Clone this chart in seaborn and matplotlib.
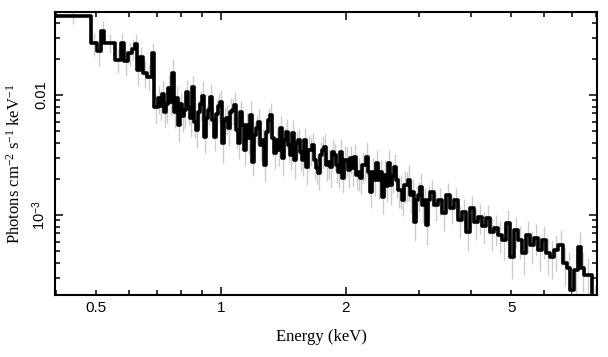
import numpy as np
import pandas as pd
import matplotlib
matplotlib.use("Agg")
import matplotlib.pyplot as plt
import seaborn as sns
from matplotlib.ticker import FixedLocator, FixedFormatter, NullFormatter

# Energy bin edges (keV)
energy_edges = [
    0.398, 0.486, 0.502, 0.513, 0.523, 0.555, 0.573, 0.584, 0.598, 0.609,
    0.621, 0.626, 0.638, 0.648, 0.662, 0.681, 0.690,
    0.7050,
    0.7129, 0.7208, 0.7289, 0.7369, 0.7451, 0.7534, 0.7619, 0.7704, 0.7790,
    0.7877, 0.7965, 0.8054, 0.8144, 0.8235, 0.8327, 0.8420, 0.8514, 0.8609,
    0.8705, 0.8802, 0.8900, 0.9000, 0.9100, 0.9202, 0.9304, 0.9408, 0.9513,
    0.9619, 0.9726, 0.9835, 0.9945, 1.0056, 1.0168, 1.0281, 1.0396, 1.0512,
    1.0629, 1.0748, 1.0867, 1.0989, 1.1112, 1.1236, 1.1361, 1.1488, 1.1616,
    1.1746, 1.1877, 1.2010, 1.2143, 1.2278, 1.2415, 1.2554, 1.2694, 1.2836,
    1.2979, 1.3124, 1.3270, 1.3418, 1.3568, 1.3719, 1.3873, 1.4028, 1.4184,
    1.4342, 1.4502, 1.4664, 1.4827, 1.4992, 1.5160, 1.5329, 1.5500, 1.5673,
    1.5849, 1.6026, 1.6205, 1.6385, 1.6568, 1.6753, 1.6940, 1.7129, 1.7320,
    1.7514, 1.7709, 1.7907, 1.8106, 1.8308, 1.8512, 1.8719, 1.8928, 1.9139,
    1.9353, 1.9569, 1.9787, 2.0008, 2.0231, 2.0457, 2.0685, 2.0916, 2.1149,
    2.1385, 2.1624, 2.1865, 2.2109, 2.2356, 2.2605, 2.2858, 2.3113, 2.3371,
    2.3631, 2.3895, 2.4161, 2.4431, 2.4704, 2.4979, 2.5258, 2.5540, 2.5825,
    2.6113, 2.6404, 2.6699, 2.6997, 2.7298, 2.7603, 2.7911, 2.8222, 2.8537,
    2.8856, 2.9178, 2.9503, 2.9832, 3.0165, 3.0501, 3.0842, 3.1186, 3.1534,
    3.1886,
    3.260, 3.333, 3.408, 3.485, 3.563, 3.643, 3.725, 3.808, 3.894, 3.981,
    4.070, 4.162, 4.255, 4.351, 4.448, 4.548, 4.650, 4.755, 4.862, 4.971,
    5.082, 5.196, 5.313, 5.432, 5.554,
    5.679, 5.806, 5.937, 6.070, 6.206, 6.345, 6.488, 6.671, 6.820, 6.935,
    7.090, 7.250, 7.371, 7.495, 7.835, 8.100,
]

# Flux per bin, in units of 1e-3 photons cm^-2 s^-1 keV^-1
flux_e3 = [
    45.8, 27.0, 23.4, 34.3, 27.3, 19.6, 27.3, 19.0, 22.3, 24.2,
    26.5, 16.2, 20.6, 15.3, 14.2, 22.3, 8.0,
    9.44, 8.10, 10.19, 7.22, 8.41, 11.44, 8.74, 15.25, 7.22, 9.44,
    5.62, 8.41, 6.68, 7.50, 10.59, 7.79, 6.43, 11.66, 5.96, 5.11,
    7.22, 8.41, 9.81, 4.47, 6.43, 7.50, 9.62, 6.19, 4.47, 6.95,
    8.10, 8.74, 3.98, 6.19, 6.43, 5.31, 7.22, 7.50, 8.25, 5.11,
    3.98, 7.22, 5.62, 3.48, 5.62, 4.38, 6.81, 2.76, 4.64, 5.31,
    5.96, 3.83, 4.22, 2.61, 4.92, 6.19, 6.81, 4.38, 3.29, 4.22,
    3.48, 5.31, 2.99, 4.22, 4.92, 3.83, 3.16, 4.82, 2.87, 3.98,
    4.22, 3.35, 2.87, 4.22, 2.51, 3.48, 3.48, 3.83, 2.87, 2.46,
    2.24, 3.16, 3.48, 3.69, 2.61, 2.76, 2.51, 3.35, 3.16, 2.61,
    2.28, 3.35, 2.03, 2.87, 2.87, 2.37, 2.99, 2.46, 3.04, 2.15,
    2.28, 2.03, 2.61, 2.61, 3.04, 2.28, 1.56, 2.28, 1.96, 2.71,
    1.96, 2.28, 1.41, 2.15, 1.745, 2.71, 1.78, 2.11, 2.51, 1.96,
    1.62, 1.62, 1.33, 1.78, 1.78, 1.96, 1.47, 1.56, 0.874, 1.33,
    1.47, 1.71, 1.21, 1.33, 0.825, 1.33,
    1.56, 1.21, 1.33, 1.04, 1.47, 1.14, 1.33, 0.909, 1.06, 0.722,
    1.14, 0.874, 0.963, 0.810, 0.944, 0.722, 0.779, 0.681, 0.619, 0.858,
    0.447, 0.750, 0.619, 0.482, 0.681,
    0.562, 0.643, 0.511, 0.619, 0.482, 0.447, 0.511, 0.562, 0.398, 0.361,
    0.237, 0.348, 0.541, 0.361, 0.316, 0.180,
]

# Relative 1-sigma error per bin
rel_err = [
    0.15, 0.22, 0.25, 0.20, 0.18, 0.22, 0.20, 0.24, 0.22, 0.20,
    0.22, 0.27, 0.22, 0.25, 0.24, 0.22, 0.28,
    0.26, 0.24, 0.28, 0.25, 0.30, 0.27, 0.24, 0.30, 0.26, 0.25,
    0.28, 0.24, 0.27, 0.30, 0.25, 0.28, 0.31, 0.24, 0.27, 0.30,
    0.25, 0.28, 0.32, 0.26, 0.27, 0.25, 0.28, 0.31, 0.24, 0.30,
    0.27, 0.25, 0.32, 0.26, 0.28, 0.29, 0.31, 0.25, 0.27, 0.30,
    0.26, 0.24, 0.29, 0.27, 0.25, 0.26, 0.30, 0.24, 0.27, 0.25,
    0.29, 0.26, 0.24, 0.28, 0.30, 0.25, 0.26, 0.29, 0.27, 0.24,
    0.27, 0.25, 0.30, 0.26, 0.28, 0.27, 0.25, 0.29, 0.30, 0.26,
    0.25, 0.31, 0.27, 0.26, 0.29, 0.32, 0.27, 0.25, 0.30, 0.26,
    0.28, 0.29, 0.31, 0.27, 0.26, 0.28, 0.33, 0.27, 0.26, 0.29,
    0.26, 0.28, 0.25, 0.30, 0.27, 0.29, 0.26, 0.31, 0.28, 0.25,
    0.30, 0.27, 0.29, 0.26, 0.32, 0.28, 0.27, 0.30, 0.26, 0.29,
    0.31, 0.27, 0.28, 0.30, 0.26, 0.29, 0.32, 0.28, 0.27, 0.30,
    0.29, 0.31, 0.27, 0.30, 0.28, 0.33, 0.29, 0.27, 0.31, 0.30,
    0.28, 0.31, 0.29, 0.27, 0.32, 0.30,
    0.25, 0.27, 0.26, 0.29, 0.25, 0.27, 0.26, 0.30, 0.27, 0.31,
    0.26, 0.29, 0.28, 0.30, 0.27, 0.31, 0.29, 0.30, 0.32, 0.28,
    0.35, 0.29, 0.31, 0.34, 0.30,
    0.31, 0.30, 0.33, 0.31, 0.34, 0.35, 0.33, 0.32, 0.36, 0.37,
    0.42, 0.36, 0.32, 0.37, 0.38, 0.45,
]

x_ticklabels_major = ["1", "2"]
x_ticklabels_minor = ["", "0.5", "", "", "", "", "", "", "5", "", "", ""]
y_ticklabels = ["10$^{\\mathsf{-3}}$", "0.01"]

sns.set_theme(style="ticks")
plt.rcParams.update({
    "font.family": ["Liberation Sans", "DejaVu Sans"],
    "mathtext.fontset": "custom",
    "mathtext.rm": "Liberation Serif",
    "mathtext.it": "Liberation Serif:italic",
    "mathtext.sf": "Liberation Sans",
    "axes.linewidth": 1.5,
    "axes.edgecolor": "black",
})

edges = np.array(energy_edges)
flux = np.array(flux_e3) * 1e-3
err = flux * np.array(rel_err)
centers = np.sqrt(edges[:-1] * edges[1:])

fig = plt.figure(figsize=(6.08, 3.57), dpi=100)
ax = fig.add_axes([0.0905, 0.1737, 0.891, 0.7936])
ax.set_xscale("log")
ax.set_yscale("log")

# error bars (light gray)
ax.vlines(centers, np.clip(flux - err, 1e-6, None), flux + err,
          color="#cccccc", linewidth=1.0, zorder=1)

step_df = pd.DataFrame({"E": edges, "F": np.append(flux, flux[-1])})
sns.lineplot(data=step_df, x="E", y="F", drawstyle="steps-post",
             estimator=None, sort=False, color="black", linewidth=2.6,
             ax=ax, zorder=3)

ax.set_xlim(0.398, 8.04)
ax.set_ylim(2.15e-4, 0.0494)

ax.xaxis.set_major_locator(FixedLocator([1, 2]))
ax.xaxis.set_major_formatter(FixedFormatter(x_ticklabels_major))
ax.xaxis.set_minor_locator(FixedLocator([0.4, 0.5, 0.6, 0.7, 0.8, 0.9, 3, 4, 5, 6, 7, 8]))
ax.xaxis.set_minor_formatter(FixedFormatter(x_ticklabels_minor))

ax.yaxis.set_major_locator(FixedLocator([1e-3, 1e-2]))
ax.yaxis.set_major_formatter(FixedFormatter(y_ticklabels))
ymin = [k * 1e-4 for k in range(2, 10)] + [k * 1e-3 for k in range(2, 10)] + [k * 1e-2 for k in range(2, 6)]
ax.yaxis.set_minor_locator(FixedLocator(ymin))
ax.yaxis.set_minor_formatter(NullFormatter())

ax.tick_params(which="both", direction="in", top=True, right=True, color="black")
ax.tick_params(which="major", length=6, width=1.1)
ax.tick_params(which="minor", length=3.5, width=1.1)
ax.tick_params(axis="x", which="both", labelsize=11, pad=4, labelcolor="black")
ax.tick_params(axis="y", which="both", labelsize=10.5, pad=5, labelrotation=90, labelcolor="black")
for lbl in ax.get_yticklabels():
    lbl.set_verticalalignment("center")

ax.set_xlabel("Energy (keV)", family="Liberation Serif", fontsize=12, color="black")
ax.set_ylabel("Photons cm$^{-2}$ s$^{-1}$ keV$^{-1}$", family="Liberation Serif",
              fontsize=12, color="black")
ax.xaxis.set_label_coords(0.4926, -0.12)
ax.yaxis.set_label_coords(-0.058, 0.462)

fig.savefig("out.png", dpi=100)
